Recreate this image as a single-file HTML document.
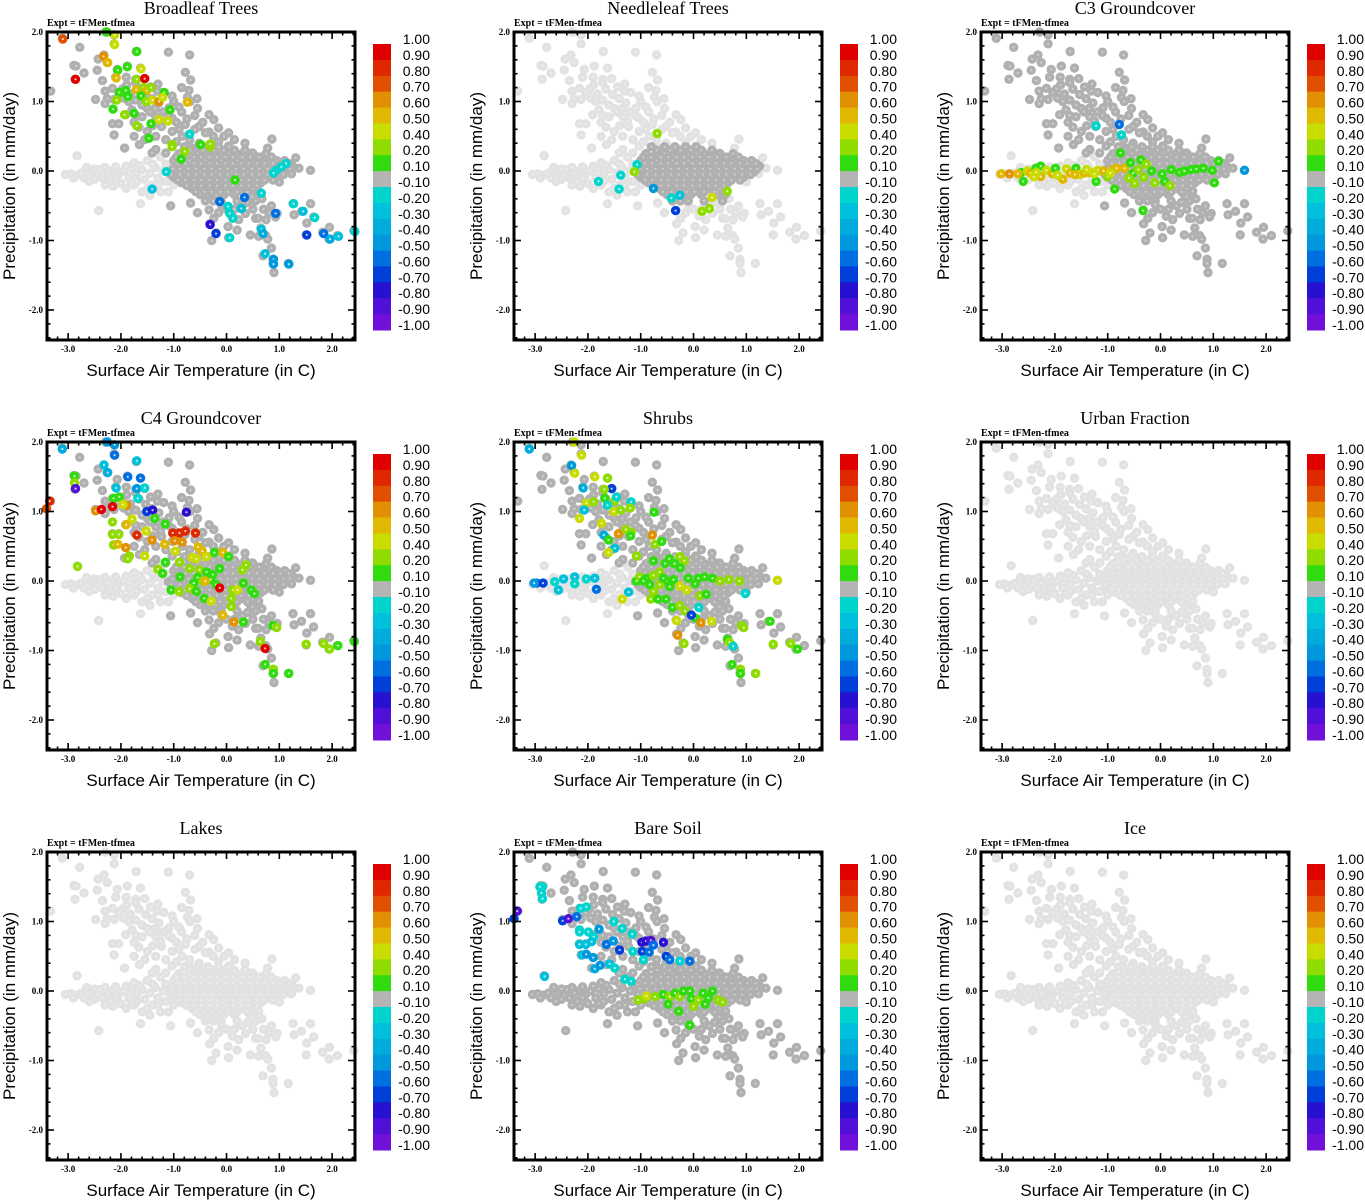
<!DOCTYPE html>
<html><head><meta charset="utf-8"><title>Land cover scatter panels</title>
<style>
html,body{margin:0;padding:0;background:#fff;}
svg{display:block;}
</style></head>
<body>
<svg id="chart" xmlns="http://www.w3.org/2000/svg" width="1365" height="1200" viewBox="0 0 1365 1200"></svg>
<script>
// ---------- shared data ----------
const panelTitles = ["Broadleaf Trees","Needleleaf Trees","C3 Groundcover","C4 Groundcover","Shrubs","Urban Fraction","Lakes","Bare Soil","Ice"];
const xTicks = [-3,-2,-1,0,1,2];
const xTickLabels = ["-3.0","-2.0","-1.0","0.0","1.0","2.0"];
const yTicks = [-2,-1,0,1,2];
const yTickLabels = ["-2.0","-1.0","0.0","1.0","2.0"];
const cbarLabels = ["1.00","0.90","0.80","0.70","0.60","0.50","0.40","0.20","0.10","-0.10","-0.20","-0.30","-0.40","-0.50","-0.60","-0.70","-0.80","-0.90","-1.00"];

// band of points near y=0 on the cold side (region 0)
const bandPoints = [[-3.05,-0.05],[-2.95,-0.04],[-2.85,-0.06],[-2.75,-0.03],[-2.65,-0.05],[-2.6,-0.15],[-2.55,-0.02],[-2.45,-0.06],[-2.4,0.02],[-2.35,-0.1],[-2.25,-0.03],[-2.2,-0.15],[-2.15,0.01],[-2.05,-0.06],[-2.0,-0.18],[-1.95,0.0],[-1.85,-0.1],[-1.8,0.03],[-1.75,-0.2],[-1.7,-0.04],[-1.6,0.02],[-1.55,-0.12],[-1.5,-0.25],[-1.45,-0.03],[-1.4,-0.2],[-1.35,0.05],[-1.3,-0.1],[-1.25,-0.3],[-1.2,0.0],[-1.15,-0.15],[-1.05,-0.05],[-1.6,-0.3],[-1.9,-0.25],[-2.3,-0.2],[-2.42,-0.57],[-1.63,-0.47],[-2.83,0.22],[-2.5,-0.12],[-2.1,-0.1],[-1.7,-0.15],[-2.9,-0.1],[-2.7,-0.1],[-2.5,0.03],[-2.3,0.05],[-2.1,0.06],[-1.9,0.07],[-1.65,0.08],[-1.4,0.1],[-1.15,0.1],[-1.0,-0.2],[-1.3,-0.2],[-1.8,-0.18],[-2.15,-0.22],[-1.45,-0.35],[-1.1,-0.3],[-1.75,0.12],[-1.5,0.15],[-1.25,0.2],[-2.65,0.05]];
// upper-left diagonal points (region 1)
const upperPoints = [[-3.11,1.91],[-2.29,2.0],[-2.13,1.96],[-2.13,1.83],[-2.78,1.78],[-1.71,1.72],[-1.10,1.71],[-0.70,1.67],[-2.32,1.67],[-2.43,1.61],[-2.26,1.56],[-2.89,1.52],[-2.85,1.51],[-1.88,1.51],[-1.63,1.48],[-2.07,1.46],[-2.70,1.41],[-0.78,1.42],[-2.87,1.32],[-2.10,1.35],[-1.72,1.32],[-1.55,1.33],[-2.35,1.30],[-0.68,1.31],[-1.72,1.27],[-1.89,1.24],[-2.16,1.19],[-1.97,1.18],[-1.44,1.21],[-1.66,1.18],[-1.31,1.15],[-1.19,1.13],[-0.71,1.16],[-3.33,1.15],[-2.04,1.13],[-1.82,1.11],[-1.53,1.10],[-1.03,1.08],[-0.74,1.06],[-2.26,1.04],[-2.48,1.03],[-2.13,1.03],[-1.72,1.02],[-1.41,1.04],[-0.56,1.04],[-0.69,1.00],[-1.28,0.98],[-2.30,0.97],[-1.09,0.91],[-0.90,0.92],[-1.79,0.88],[-1.91,0.81],[-1.72,0.80],[-0.33,0.81],[-1.60,0.78],[-1.34,0.78],[-1.03,0.76],[-0.24,0.74],[-2.16,0.68],[-2.04,0.68],[-1.66,0.63],[-1.23,0.64],[-0.78,0.67],[-0.52,0.64],[-1.50,0.57],[-1.03,0.57],[-0.15,0.62],[-0.33,0.56],[0.04,0.55],[-2.13,0.52],[-1.75,0.50],[-1.34,0.50],[-0.84,0.50],[-0.05,0.50],[0.86,0.46],[-1.93,0.33],[-1.65,0.38],[-1.34,0.31],[-1.03,0.36],[-0.52,0.40],[0.04,0.36],[0.78,0.33],[-1.41,0.26],[-1.15,0.26],[0.49,0.26],[-1.5,0.9],[-1.2,0.85],[-0.95,0.7],[-0.6,0.8],[-1.85,1.0],[-1.4,0.65],[-0.85,1.2],[-1.15,0.45],[-0.7,0.45],[-0.4,0.55],[-1.95,1.05],[-1.6,0.95],[-1.35,0.9],[-1.1,0.8],[-0.85,0.85],[-0.75,0.75],[-0.6,0.6],[-0.45,0.7],[-0.25,0.5],[-0.9,0.6],[-1.25,0.72],[-1.45,0.85],[-1.75,0.7],[-1.55,0.45],[-0.95,0.42],[-0.7,0.35],[-1.0,1.0],[-0.55,0.9],[-1.3,1.25],[-1.9,1.35],[-2.3,1.15],[-0.15,0.42],[0.15,0.45],[0.35,0.4],[-2.45,1.45]];
// core cluster, stored as rows (region 2)
const coreRowY = [0.35,0.25,0.15,0.07,-0.01,-0.09,-0.17,-0.25,-0.34,-0.43];
const coreRowX = [
 [-0.8,-0.55,-0.35,-0.15,0.05],
 [-0.9,-0.7,-0.55,-0.4,-0.25,-0.1,0.05,0.2,0.5,0.75],
 [-1.0,-0.85,-0.7,-0.55,-0.4,-0.25,-0.1,0.05,0.2,0.35,0.5,0.65,0.8,0.95,1.1],
 [-0.95,-0.8,-0.65,-0.5,-0.35,-0.2,-0.05,0.1,0.25,0.4,0.55,0.7,0.85,1.0,1.15,1.25],
 [-1.1,-0.95,-0.8,-0.65,-0.5,-0.35,-0.2,-0.05,0.1,0.25,0.4,0.55,0.7,0.85,1.0,1.15],
 [-1.0,-0.85,-0.7,-0.55,-0.4,-0.25,-0.1,0.05,0.2,0.35,0.5,0.65,0.8,0.95],
 [-0.85,-0.7,-0.55,-0.4,-0.25,-0.1,0.05,0.2,0.35,0.5,0.65],
 [-0.65,-0.5,-0.35,-0.2,-0.05,0.1,0.3,0.5],
 [-0.5,-0.35,-0.2,-0.05,0.15,0.45,0.6],
 [-0.4,-0.25,-0.1,0.2,0.55]
];
const coreRowY2 = [0.3,0.2,0.11,0.03,-0.05,-0.13,-0.21,-0.3];
const coreRowX2 = [
 [-0.7,-0.45,-0.25,-0.05,0.15,0.35],
 [-0.95,-0.8,-0.62,-0.48,-0.32,-0.18,-0.02,0.12,0.3,0.45,0.62,0.85],
 [-0.92,-0.78,-0.62,-0.48,-0.32,-0.18,-0.02,0.12,0.28,0.42,0.58,0.72,0.88,1.02,1.18],
 [-1.02,-0.88,-0.72,-0.58,-0.42,-0.28,-0.12,0.02,0.18,0.32,0.48,0.62,0.78,0.92,1.08,1.2],
 [-1.05,-0.88,-0.72,-0.58,-0.42,-0.28,-0.12,0.02,0.18,0.32,0.48,0.62,0.78,0.92,1.08],
 [-0.92,-0.78,-0.62,-0.48,-0.32,-0.18,-0.02,0.12,0.28,0.42,0.58,0.72,0.88],
 [-0.75,-0.62,-0.48,-0.32,-0.18,-0.02,0.12,0.28,0.42,0.58],
 [-0.58,-0.42,-0.28,-0.12,0.02,0.2,0.4]
];
// lower-right tail (region 3)
const lowerPoints = [[1.31,0.19],[1.37,0.04],[1.59,0.01],[1.23,-0.04],[1.00,-0.16],[-1.06,-0.50],[-0.68,-0.46],[-0.33,-0.56],[-0.24,-0.68],[-0.32,-0.76],[-0.20,-0.89],[-0.28,-1.0],[0.04,-0.96],[0.03,-0.80],[0.11,-0.65],[0.23,-0.70],[0.36,-0.61],[0.45,-0.92],[0.55,-0.68],[0.61,-0.94],[0.74,-0.93],[0.85,-1.11],[0.69,-1.22],[0.88,-1.27],[0.88,-1.33],[1.17,-1.33],[0.90,-1.46],[0.85,-0.50],[0.96,-0.61],[0.93,-0.66],[1.26,-0.47],[1.28,-0.63],[1.42,-0.58],[1.59,-0.47],[1.65,-0.66],[1.52,-0.75],[1.51,-0.92],[1.82,-0.88],[1.95,-0.81],[1.94,-0.98],[2.10,-0.93],[2.41,-0.86],[0.61,-0.29],[0.67,-0.40],[0.49,-0.37],[0.3,-0.5],[0.0,-0.55],[-0.1,-0.48],[0.7,-0.55],[0.6,-0.68],[-0.55,-0.6],[0.2,-0.85],[0.78,-0.98],[0.4,-0.45],[0.15,-0.55],[-0.15,-0.6],[0.5,-0.55],[0.75,-0.7],[0.65,-0.82],[0.8,-0.6]];

// which regions are drawn dark grey in each panel (0 band,1 upper,2 core,3 lower)
const darkRegions = [[1,2,3],[2],[1,2,3],[1,2,3],[1,2,3],[],[],[0,1,2,3],[]];

// coloured points per panel: [temperature, precipitation, value]
const broadleafValues = [[-3.10,1.90,0.7],[-2.27,2.0,0.1],[-2.12,1.96,0.4],[-2.12,1.82,0.4],[-2.33,1.65,0.6],[-2.25,1.56,0.5],[-2.86,1.32,0.9],[-2.06,1.45,0.1],[-1.88,1.50,0.1],[-1.70,1.72,0.1],[-1.62,1.47,0.4],[-1.70,1.32,0.3],[-1.55,1.33,0.9],[-2.09,1.34,0.5],[-2.03,1.13,0.1],[-1.91,1.16,0.1],[-1.87,1.07,0.1],[-1.71,1.17,0.5],[-1.57,1.20,0.3],[-1.51,1.16,0.5],[-1.43,1.20,0.3],[-1.18,1.13,0.1],[-1.62,1.08,0.1],[-2.08,1.02,0.2],[-1.52,1.00,0.3],[-1.40,1.02,0.4],[-1.28,1.00,0.6],[-1.21,1.06,0.4],[-0.74,0.99,0.5],[-2.15,0.89,0.1],[-1.07,0.88,0.1],[-1.93,0.81,0.3],[-1.75,0.83,0.1],[-1.70,0.65,0.3],[-1.43,0.68,0.1],[-1.28,0.74,0.4],[-1.11,0.72,0.4],[-1.47,0.47,0.1],[-0.70,0.53,-0.2],[-1.03,0.38,0.3],[-1.03,0.35,0.3],[-0.79,0.28,0.3],[-0.49,0.38,0.1],[-0.31,0.35,0.3],[-0.31,0.39,0.3],[-0.86,0.17,0.1],[0.16,-0.13,0.1],[-1.14,-0.01,-0.2],[-1.41,-0.26,-0.3],[0.94,0.01,-0.2],[1.04,0.06,-0.2],[1.13,0.11,-0.2],[0.89,-0.03,-0.2],[-0.13,-0.44,-0.6],[0.03,-0.51,-0.2],[0.06,-0.61,-0.2],[0.12,-0.68,-0.2],[0.28,-0.54,-0.3],[-0.31,-0.77,-0.8],[-0.20,-0.90,-0.7],[0.06,-0.96,-0.2],[0.34,-0.38,-0.6],[0.66,-0.32,-0.2],[0.66,-0.84,-0.3],[0.69,-0.90,-0.4],[0.93,-0.61,-0.6],[1.27,-0.47,-0.2],[1.45,-0.58,-0.3],[1.67,-0.67,-0.2],[1.52,-0.92,-0.7],[1.84,-0.90,-0.6],[1.96,-0.98,-0.4],[2.12,-0.94,-0.3],[2.43,-0.87,-0.2],[0.73,-1.19,-0.3],[0.89,-1.27,-0.5],[0.89,-1.34,-0.5],[1.18,-1.34,-0.5]];
const needleleafValues = [[-0.69,0.54,0.2],[-1.07,0.09,-0.2],[-1.12,-0.01,0.3],[-1.38,-0.06,-0.2],[-1.80,-0.15,-0.2],[-1.41,-0.26,-0.2],[-0.76,-0.25,-0.5],[-0.42,-0.39,-0.2],[-0.26,-0.35,-0.3],[-0.34,-0.57,-0.7],[0.16,-0.58,0.2],[0.30,-0.54,0.2],[0.35,-0.38,0.4],[0.64,-0.29,0.2]];
const c3Values = [[-3.02,-0.04,0.5],[-2.86,-0.04,0.6],[-2.64,-0.02,0.1],[-2.60,-0.15,0.1],[-2.52,0.0,0.4],[-2.46,-0.03,0.5],[-2.36,0.04,0.1],[-2.27,0.07,0.1],[-2.27,-0.08,0.5],[-2.16,0.01,0.4],[-2.05,-0.04,0.5],[-1.99,0.04,0.1],[-1.85,-0.12,0.5],[-1.78,0.03,0.4],[-1.71,-0.03,0.5],[-1.60,0.04,0.1],[-1.53,-0.05,0.4],[-1.44,-0.03,0.5],[-1.34,-0.02,0.5],[-1.22,-0.15,0.1],[-1.19,0.01,0.4],[-1.08,0.0,0.5],[-1.00,-0.08,0.3],[-0.90,0.02,0.5],[-0.83,0.04,0.5],[-0.87,-0.26,0.1],[-0.68,0.04,0.5],[-0.76,0.26,0.1],[-0.57,0.12,0.1],[-0.52,-0.03,0.1],[-0.49,-0.18,0.3],[-0.37,0.16,0.1],[-0.32,-0.09,0.3],[-0.27,0.10,0.3],[-0.17,0.0,0.1],[-0.11,-0.17,0.3],[0.03,-0.04,0.1],[0.08,-0.15,0.1],[0.18,-0.21,0.3],[0.36,-0.02,0.1],[0.45,0.0,0.1],[0.58,0.02,0.1],[0.81,0.04,0.1],[0.98,0.01,0.1],[1.02,-0.17,0.1],[1.10,0.14,0.1],[-0.33,-0.57,0.1],[1.59,0.01,-0.5],[-0.74,0.52,-0.2],[-0.78,0.67,-0.6],[-1.22,0.65,-0.2],[-2.40,-0.08,0.4],[-1.95,-0.06,0.4],[-1.40,0.02,0.4],[-0.60,-0.10,0.2],[-2.70,-0.04,0.5],[-2.35,-0.02,0.4],[-1.62,-0.05,0.5],[-1.25,-0.04,0.4],[-0.95,-0.03,0.4],[-0.42,0.02,0.2],[0.2,0.02,0.1],[0.68,0.03,0.1]];
const c4Values = [[-3.11,1.90,-0.4],[-2.26,2.0,-0.5],[-2.12,1.96,-0.5],[-2.12,1.81,-0.6],[-1.70,1.73,-0.3],[-2.32,1.67,-0.3],[-2.25,1.56,-0.4],[-2.88,1.51,0.1],[-2.88,1.41,0.3],[-2.86,1.33,-0.9],[-1.87,1.50,-0.6],[-1.63,1.48,-0.6],[-2.09,1.34,-0.3],[-1.70,1.33,-0.5],[-1.55,1.34,-0.2],[-1.68,1.19,-0.2],[-2.03,1.21,0.1],[-2.14,1.19,0.1],[-1.89,1.09,0.6],[-3.35,1.15,0.8],[-3.41,1.04,0.7],[-2.48,1.01,0.6],[-2.37,1.03,0.9],[-2.16,1.07,0.9],[-1.96,1.10,0.4],[-1.51,1.00,-0.7],[-1.40,1.02,-0.8],[-0.76,0.99,-0.8],[-1.36,0.90,0.1],[-2.16,0.85,0.3],[-1.79,0.89,0.4],[-1.90,0.81,0.5],[-1.16,0.82,0.1],[-2.16,0.67,0.2],[-2.04,0.67,0.2],[-1.70,0.66,0.8],[-1.52,0.72,0.4],[-1.41,0.59,0.6],[-1.02,0.69,0.8],[-0.89,0.69,0.8],[-0.78,0.72,0.8],[-0.59,0.69,0.8],[-2.14,0.52,0.3],[-2.06,0.53,0.5],[-1.91,0.48,0.6],[-1.17,0.53,0.5],[-0.98,0.58,0.6],[-0.84,0.56,0.6],[-0.97,0.43,0.4],[-0.54,0.49,0.5],[-0.46,0.43,0.5],[-1.55,0.36,0.4],[-1.84,0.36,0.3],[-1.87,0.32,0.2],[-2.82,0.21,0.3],[-1.16,0.27,0.1],[-1.30,0.17,0.3],[-1.21,0.11,0.1],[-0.89,0.27,0.3],[-0.65,0.34,0.4],[-0.57,0.32,0.4],[-0.38,0.35,0.4],[-0.23,0.41,0.1],[-0.07,0.41,0.5],[0.04,0.35,0.1],[-0.88,0.06,0.1],[-0.70,0.18,0.3],[-0.51,0.16,0.3],[-0.38,0.13,0.1],[-0.26,0.09,0.1],[-0.13,0.18,0.1],[-0.55,0.05,0.1],[-0.45,0.0,0.2],[-0.30,0.02,0.1],[-0.20,-0.05,0.1],[-0.62,-0.03,0.1],[-0.40,0.0,0.5],[-0.13,-0.10,0.9],[-1.05,-0.13,0.1],[-0.90,-0.15,0.3],[-0.70,-0.11,0.2],[-0.57,-0.15,0.1],[-0.42,-0.25,0.1],[-0.29,-0.29,0.4],[0.09,-0.25,0.3],[0.12,-0.13,0.3],[0.21,-0.13,0.4],[0.32,-0.03,0.1],[0.30,0.16,0.3],[0.37,0.23,0.3],[0.47,-0.13,0.1],[0.53,-0.18,0.1],[0.09,-0.37,0.2],[-0.07,-0.49,0.5],[0.14,-0.59,0.6],[0.32,-0.59,0.1],[-0.23,-0.90,0.2],[0.64,-0.87,0.3],[0.73,-0.97,0.9],[0.88,-0.64,0.1],[0.95,-0.67,0.2],[1.51,-0.91,0.3],[1.84,-0.90,0.3],[1.95,-0.98,0.3],[2.11,-0.93,0.1],[2.42,-0.87,0.1],[0.73,-1.20,0.1],[0.89,-1.27,0.3],[0.89,-1.33,0.1],[1.18,-1.33,0.1]];
const shrubValues = [[-3.11,1.90,-0.4],[-2.26,2.0,0.4],[-2.12,1.81,0.4],[-2.31,1.66,-0.5],[-2.25,1.55,0.4],[-1.87,1.50,0.4],[-1.63,1.48,0.3],[-2.09,1.34,-0.4],[-1.55,1.33,-0.7],[-1.69,1.32,0.3],[-1.68,1.19,0.1],[-2.03,1.12,0.4],[-1.89,1.14,0.3],[-1.49,1.15,0.3],[-1.18,1.14,-0.2],[-1.46,1.21,-0.2],[-1.63,1.09,-0.2],[-2.07,1.02,-0.3],[-1.51,1.00,0.4],[-1.38,1.02,0.3],[-1.20,1.05,0.3],[-0.75,0.99,0.1],[-2.16,0.90,0.4],[-1.74,0.83,0.4],[-1.42,0.68,0.6],[-1.28,0.74,0.3],[-1.18,0.70,0.3],[-1.19,0.65,0.1],[-1.70,0.66,-0.4],[-1.61,0.59,0.1],[-0.78,0.66,0.6],[-0.73,0.53,0.3],[-0.60,0.57,0.1],[-1.49,0.47,-0.3],[-1.61,0.41,0.4],[-1.08,0.36,0.3],[-0.76,0.29,0.1],[-0.54,0.25,0.1],[-0.46,0.32,0.1],[-0.26,0.35,0.3],[-0.36,0.25,0.1],[-0.17,0.29,0.3],[-0.25,0.19,0.1],[-2.97,-0.03,-0.6],[-2.85,-0.03,-0.7],[-3.02,-0.03,-0.5],[-2.63,-0.01,-0.2],[-2.56,-0.13,-0.3],[-2.46,0.03,-0.3],[-2.25,0.06,-0.3],[-2.25,-0.04,-0.2],[-2.03,0.03,-0.2],[-1.87,0.04,-0.3],[-1.84,-0.12,-0.6],[-1.23,-0.16,-0.3],[-1.08,0.0,0.1],[-1.02,0.06,0.3],[-0.89,0.04,0.1],[-0.76,0.08,0.3],[-0.64,0.13,0.3],[-0.51,0.0,0.1],[-0.38,0.02,0.1],[-0.64,-0.05,0.3],[-0.76,-0.15,0.3],[-0.95,0.0,0.1],[-0.83,-0.05,0.1],[-0.57,0.04,0.1],[-0.45,-0.08,0.1],[-0.26,-0.07,0.4],[-0.13,-0.13,0.4],[-0.10,0.04,0.1],[0.03,-0.04,0.1],[0.09,0.04,0.1],[0.21,0.06,0.1],[0.36,0.04,0.1],[0.12,-0.21,0.3],[0.24,-0.19,0.1],[0.50,0.0,0.3],[0.67,0.02,0.3],[0.87,0.0,0.3],[1.59,0.01,0.4],[0.98,-0.18,-0.2],[-1.35,-0.26,0.4],[-0.81,-0.26,0.3],[-0.67,-0.26,0.1],[-0.52,-0.26,0.1],[-0.40,-0.38,0.1],[-0.26,-0.35,0.3],[-0.16,-0.43,0.3],[0.10,-0.38,-0.2],[0.03,-0.53,0.1],[-0.04,-0.49,-0.7],[0.14,-0.60,0.6],[0.34,-0.58,0.4],[-0.32,-0.57,0.4],[-0.30,-0.78,0.6],[-0.18,-0.90,0.3],[0.64,-0.84,0.1],[0.68,-0.88,0.3],[0.75,-0.94,-0.2],[0.91,-0.64,0.3],[0.95,-0.67,0.3],[1.45,-0.58,0.1],[1.51,-0.91,0.3],[1.84,-0.90,0.3],[1.97,-0.98,0.1],[0.73,-1.20,0.1],[0.89,-1.27,0.3],[0.89,-1.33,0.1],[1.18,-1.33,0.3]];
const bareSoilValues = [[-2.86,1.50,-0.2],[-2.91,1.50,-0.2],[-2.88,1.41,-0.2],[-2.86,1.33,-0.2],[-3.34,1.15,-0.9],[-3.40,1.04,-0.7],[-2.48,1.01,-0.7],[-2.37,1.04,-0.9],[-2.21,1.07,-0.6],[-2.14,1.19,-0.2],[-2.03,1.21,-0.2],[-2.16,0.88,-0.2],[-2.16,0.85,-0.2],[-1.99,0.85,-0.2],[-1.79,0.89,-0.5],[-1.89,0.78,-0.2],[-2.16,0.67,-0.3],[-2.04,0.67,-0.3],[-1.93,0.71,-0.3],[-2.11,0.52,-0.3],[-2.03,0.53,-0.5],[-1.90,0.48,-0.5],[-1.87,0.32,-0.4],[-1.77,0.37,-0.5],[-1.59,0.39,-0.3],[-1.49,0.33,-0.2],[-1.51,1.00,-0.2],[-1.35,0.90,-0.2],[-1.65,0.67,-0.6],[-1.52,0.72,-0.5],[-1.40,0.59,-0.7],[-1.15,0.57,-0.2],[-1.16,0.82,-0.2],[-0.98,0.70,-0.8],[-0.90,0.72,-0.8],[-0.81,0.73,-0.9],[-0.97,0.57,-0.7],[-0.84,0.56,-0.6],[-0.76,0.66,-0.6],[-0.57,0.70,-0.8],[-0.52,0.50,-0.7],[-0.45,0.45,-0.6],[-0.26,0.43,-0.2],[-0.07,0.43,-0.6],[-1.30,0.17,-0.2],[-1.18,0.14,-0.2],[-0.95,0.45,-0.2],[-2.82,0.21,-0.3],[-1.05,-0.13,0.3],[-0.92,-0.11,0.3],[-0.89,-0.07,0.4],[-0.73,-0.08,0.3],[-0.57,-0.05,0.1],[-0.45,-0.08,0.3],[-0.35,-0.03,0.1],[-0.26,-0.08,0.3],[-0.19,0.0,0.1],[-0.07,0.0,0.1],[-0.04,-0.11,0.1],[0.09,-0.13,0.3],[0.0,-0.22,0.3],[0.18,-0.03,0.1],[0.22,-0.19,0.1],[0.28,-0.10,0.1],[0.36,0.0,0.1],[0.47,-0.13,0.3],[0.55,-0.16,0.3],[-0.48,-0.19,0.1],[-0.28,-0.29,0.1],[-0.07,-0.49,0.1]];
const panelValues = [broadleafValues,needleleafValues,c3Values,c4Values,shrubValues,[],[],bareSoilValues,[]];

// ---------- drawing ----------
const NS = "http://www.w3.org/2000/svg";
const svg = document.getElementById("chart");
const binColors = ["#e00000","#e02800","#e05000","#e09000","#e0b800","#c8dc00","#90dc00","#30dc10","#b4b4b4","#00d4cc","#00c0dc","#00acdc","#0098dc","#0070e0","#0040d8","#2810d0","#5010d8","#7010d8"];
const DARK = "#b0b0b0", LIGHT = "#e2e2e2";
function binOf(v){
  if (v >= 0.4) return Math.max(0, Math.min(5, Math.round((0.9 - v) * 10)));
  if (v >= 0.2) return 6;
  if (v >= 0.1) return 7;
  if (v > -0.1) return 8;
  return Math.max(9, Math.min(17, 9 + Math.round(-v * 10) - 2));
}
function sx(x){ return 47 + (x + 3.4) * 52.8; }
function sy(y){ return 171 - y * 69.5; }
function mk(tag, attrs, parent){
  const e = document.createElementNS(NS, tag);
  for (const k in attrs) e.setAttribute(k, attrs[k]);
  parent.appendChild(e);
  return e;
}
function marker(g, x, y, color, name, dotOpacity){
  const c = mk("circle", {cx: sx(x).toFixed(1), cy: sy(y).toFixed(1), r: 4.7, fill: color}, g);
  
  
  const d = mk("circle", {cx: sx(x).toFixed(1), cy: sy(y).toFixed(1), r: 1.1, fill: "#ffffff", "fill-opacity": dotOpacity}, g);
  
  
}

// assemble the base cloud with region codes
const cloud = [];
bandPoints.forEach(p => cloud.push([p[0], p[1], 0]));
upperPoints.forEach(p => cloud.push([p[0], p[1], 1]));
coreRowY.forEach((yy, i) => coreRowX[i].forEach(xx => cloud.push([xx, yy, 2])));
coreRowY2.forEach((yy, i) => coreRowX2[i].forEach(xx => cloud.push([xx, yy, 2])));
lowerPoints.forEach(p => cloud.push([p[0], p[1], 3]));

panelTitles.forEach((title, idx) => {
  const ox = (idx % 3) * 467, oy = Math.floor(idx / 3) * 410;
  const g = mk("g", {transform: `translate(${ox},${oy})`}, svg);
  
  

  const t = mk("text", {x: 201, y: 14, "text-anchor": "middle", "font-family": "Liberation Serif, serif", "font-size": 18}, g);
  t.textContent = title;
  
  

  const ex = mk("text", {x: 47, y: 26, "font-family": "Liberation Serif, serif", "font-size": 10, "font-weight": "bold"}, g);
  ex.textContent = "Expt = tFMen-tfmea";
  
  

  // points
  const dark = darkRegions[idx];
  const pts = mk("g", {}, g);
  
  
  cloud.forEach(p => { if (dark.indexOf(p[2]) < 0) marker(pts, p[0], p[1], LIGHT, 'point-missing', 0.4); });
  cloud.forEach(p => { if (dark.indexOf(p[2]) >= 0) marker(pts, p[0], p[1], DARK, 'point-neutral', 0.4); });
  panelValues[idx].forEach(p => marker(pts, p[0], p[1], binColors[binOf(p[2])], 'point-colored', 0.75));

  // frame
  const fr = mk("rect", {x: 47, y: 32, width: 308, height: 308, fill: "none", stroke: "#000", "stroke-width": 3}, g);
  
  

  // ticks
  const tk = mk("g", {stroke: "#000", "stroke-width": 1.6}, g);
  
  
  for (let i = -17; i <= 12; i++) {
    const v = i / 5, px = sx(v);
    if (px < 48 || px > 354) continue;
    const major = (i % 5 === 0), L = major ? 7 : 3.5;
    mk("line", {x1: px, y1: 340, x2: px, y2: 340 - L}, tk);
    mk("line", {x1: px, y1: 32, x2: px, y2: 32 + L}, tk);
  }
  for (let i = -12; i <= 10; i++) {
    const v = i / 5, py = sy(v);
    if (py < 33 || py > 339) continue;
    const major = (i % 5 === 0), L = major ? 7 : 3.5;
    mk("line", {x1: 47, y1: py, x2: 47 + L, y2: py}, tk);
    mk("line", {x1: 355, y1: py, x2: 355 - L, y2: py}, tk);
  }
  xTicks.forEach((v, i) => {
    const tl = mk("text", {x: sx(v), y: 352, "text-anchor": "middle", "font-family": "Liberation Serif, serif", "font-size": 9, "font-weight": "bold"}, g);
    tl.textContent = xTickLabels[i];
    
    
  });
  yTicks.forEach((v, i) => {
    const tl = mk("text", {x: 43, y: sy(v) + 3, "text-anchor": "end", "font-family": "Liberation Serif, serif", "font-size": 9, "font-weight": "bold"}, g);
    tl.textContent = yTickLabels[i];
    
    
  });

  const xl = mk("text", {x: 201, y: 376, "text-anchor": "middle", "font-family": "Liberation Sans, sans-serif", "font-size": 17}, g);
  xl.textContent = "Surface Air Temperature (in C)";
  
  
  const yl = mk("text", {x: 0, y: 0, transform: "translate(15,186) rotate(-90)", "text-anchor": "middle", "font-family": "Liberation Sans, sans-serif", "font-size": 17}, g);
  yl.textContent = "Precipitation (in mm/day)";
  
  

  // colorbar
  const cb = mk("g", {}, g);
  
  
  const bh = 286 / 18;
  binColors.forEach((c, i) => {
    const r = mk("rect", {x: 373, y: (44 + i * bh).toFixed(2), width: 18, height: (bh + 0.5).toFixed(2), fill: c}, cb);
    
    
  });
  cbarLabels.forEach((s, i) => {
    const tl = mk("text", {x: 430, y: 44 + i * bh, "text-anchor": "end", "font-family": "Liberation Sans, sans-serif", "font-size": 14}, cb);
    tl.textContent = s;
    
    
  });
});
</script>
</body></html>
